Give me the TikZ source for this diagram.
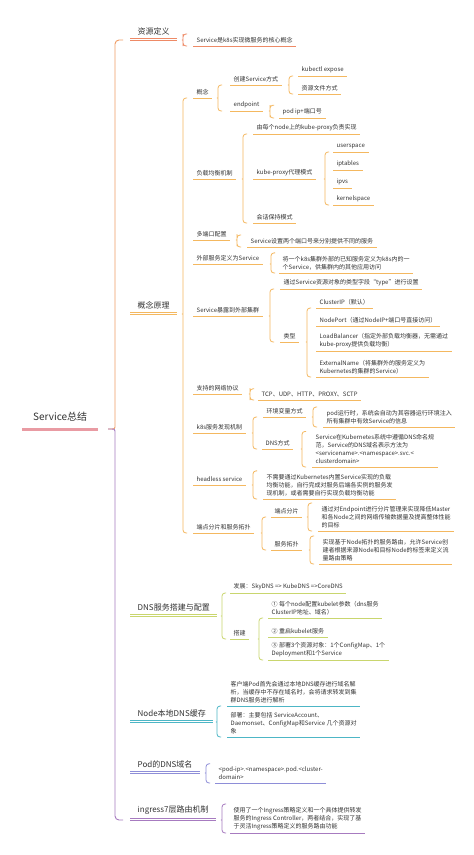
\documentclass[tikz,border=0pt]{standalone}
\usepackage{fontspec}
\setmainfont{Noto Sans CJK SC}
\usetikzlibrary{calc}

\definecolor{txt}{HTML}{333333}
\definecolor{rootpink}{HTML}{E99BA3}
\definecolor{coral}{HTML}{EE8A66}
\definecolor{orangeb}{HTML}{F4B860}
\definecolor{limeb}{HTML}{C9D66E}
\definecolor{tealb}{HTML}{4DB6C6}
\definecolor{lavb}{HTML}{8E8ED8}
\definecolor{purpb}{HTML}{A77BC0}

\tikzset{
    root/.style={font=\fontsize{10}{12}\selectfont, text=txt, anchor=south west,
        inner xsep=11pt, inner ysep=8pt,
        append after command={(\tikzlastnode.south west) edge[draw=rootpink, line width=3pt] (\tikzlastnode.south east)}},
    topic/.style={font=\fontsize{8}{10}\selectfont, text=txt, anchor=south west,
        inner xsep=7.5pt, inner ysep=5pt,
        append after command={(\tikzlastnode.south west) edge[draw=#1, line width=0.7pt] (\tikzlastnode.south east)
            ([yshift=2pt]\tikzlastnode.south west) edge[draw=#1, line width=0.7pt] ([yshift=2pt]\tikzlastnode.south east)}},
    leaf/.style={font=\fontsize{6}{8}\selectfont, text=txt, align=left, anchor=south west,
        inner xsep=3.5pt, inner ysep=3pt,
        append after command={(\tikzlastnode.south west) edge[draw=#1, line width=0.7pt] (\tikzlastnode.south east)}},
    brace line/.style={line width=0.8pt, rounded corners=3pt},
}

% brace at x=#1 from parent #2 to the anchors #3 (top) and #4 (bottom)
\newcommand\mmbrace[5]{%
    \draw[brace line, #5] let \p1=(#2.south), \p2=(#3), \p3=(#4) in
        ({#1pt+4pt},\y2) -- ({#1pt},\y2) -- ({#1pt},\y1+3pt)
        .. controls ({#1pt},\y1) .. ({#1pt-3pt},\y1)
        .. controls ({#1pt},\y1) .. ({#1pt},\y1-3pt) -- ({#1pt},\y3) -- ({#1pt+4pt},\y3);}

\begin{document}
\begin{tikzpicture}[x=1pt, y=-1pt]
    \useasboundingbox[fill=white] (0,0) rectangle (474,855);

    % Root
    \node[root] (r) at (22,429) {Service总结};

    % Main topics
    \node[topic=coral] (n1) at (130,40) {资源定义};
    \node[topic=orangeb] (n2) at (130,314) {概念原理};
    \node[topic=limeb] (n3) at (130,616) {DNS服务搭建与配置};
    \node[topic=tealb] (n4) at (130,722) {Node本地DNS缓存};
    \node[topic=lavb] (n5) at (130,773) {Pod的DNS域名};
    \node[topic=purpb] (n6) at (130,820) {ingress7层路由机制};

    % Main brace
    \draw[line width=0.9pt, rounded corners=4pt, coral!60!orangeb] let \p1=(r.south), \p2=(n1.south) in
        ({123pt},\y2) -- ({115pt},\y2) -- ({115pt},\y1+6pt) .. controls ({115pt},\y1) .. ({108pt},\y1);
    \draw[line width=0.9pt, rounded corners=4pt, purpb] let \p1=(r.south), \p3=(n6.south) in
        ({108pt},\y1) .. controls ({115pt},\y1) .. ({115pt},\y1-6pt) -- ({115pt},\y3) -- ({123pt},\y3);

    % 资源定义
    \node[leaf=coral] (n1a) at (193,46) {Service是k8s实现微服务的核心概念};
    \mmbrace{183}{n1}{n1a.north}{n1a.south}{coral}

    % 概念原理
    \node[leaf=orangeb] (n2a) at (193,98) {概念};
    \node[leaf=orangeb] (n2a1) at (230,85) {创建Service方式};
    \node[leaf=orangeb] (n2a1x) at (298,76) {kubectl expose};
    \node[leaf=orangeb] (n2a1y) at (298,94) {资源文件方式};
    \node[leaf=orangeb] (n2a2) at (230,111) {endpoint};
    \node[leaf=orangeb] (n2a2x) at (279,118) {pod ip+端口号};

    \node[leaf=orangeb] (n2b) at (193,179) {负载均衡机制};
    \node[leaf=orangeb] (n2b1) at (253,134) {由每个node上的kube-proxy负责实现};
    \node[leaf=orangeb] (n2b2) at (253,179) {kube-proxy代理模式};
    \node[leaf=orangeb] (n2b2a) at (333,152) {userspace};
    \node[leaf=orangeb] (n2b2b) at (333,170) {iptables};
    \node[leaf=orangeb] (n2b2c) at (333,188) {ipvs};
    \node[leaf=orangeb] (n2b2d) at (333,205) {kernelspace};
    \node[leaf=orangeb] (n2b3) at (253,223) {会话保持模式};

    \node[leaf=orangeb] (n2c) at (193,240) {多端口配置};
    \node[leaf=orangeb] (n2c1) at (247,247) {Service设置两个端口号来分别提供不同的服务};

    \node[leaf=orangeb] (n2d) at (193,264) {外部服务定义为Service};
    \node[leaf=orangeb] (n2d1) at (279,273) {将一个k8s集群外部的已知服务定义为k8s内的一\\个Service，供集群内的其他应用访问};

    \node[leaf=orangeb] (n2e) at (193,316) {Service暴露到外部集群};
    \node[leaf=orangeb] (n2e1) at (280,289) {通过Service资源对象的类型字段“type”进行设置};
    \node[leaf=orangeb] (n2e2) at (280,342) {类型};
    \node[leaf=orangeb] (n2e2a) at (316,308) {ClusterIP（默认）};
    \node[leaf=orangeb] (n2e2b) at (316,326) {NodePort（通过NodeIP+端口号直接访问）};
    \node[leaf=orangeb] (n2e2c) at (316,351) {LoadBalancer（指定外部负载均衡器，无需通过\\kube-proxy提供负载均衡）};
    \node[leaf=orangeb] (n2e2d) at (316,377) {ExternalName（将集群外的服务定义为\\Kubernetes的集群的Service）};

    \node[leaf=orangeb] (n2f) at (193,394) {支持的网络协议};
    \node[leaf=orangeb] (n2f1) at (258,400) {TCP、UDP、HTTP、PROXY、SCTP};

    \node[leaf=orangeb] (n2g) at (193,433) {k8s服务发现机制};
    \node[leaf=orangeb] (n2g1) at (263,417) {环境变量方式};
    \node[leaf=orangeb] (n2g1a) at (323,427) {pod运行时，系统会自动为其容器运行环境注入\\所有集群中有效Service的信息};
    \node[leaf=orangeb] (n2g2) at (262,449) {DNS方式};
    \node[leaf=orangeb] (n2g2a) at (312,467) {Service在Kubernetes系统中遵循DNS命名规\\范，Service的DNS域名表示方法为\\<servicename>.<namespace>.svc.<\\clusterdomain>};

    \node[leaf=orangeb] (n2h) at (193,485) {headless service};
    \node[leaf=orangeb] (n2h1) at (263,499) {不需要通过Kubernetes内置Service实现的负载\\均衡功能，自行完成对服务后端各实例的服务发\\现机制，或者需要自行实现负载均衡功能};

    \node[leaf=orangeb] (n2i) at (193,533) {端点分片和服务拓扑};
    \node[leaf=orangeb] (n2i1) at (271,517) {端点分片};
    \node[leaf=orangeb] (n2i1a) at (318,531) {通过对Endpoint进行分片管理来实现降低Master\\和各Node之间的网络传输数据量及提高整体性能\\的目标};
    \node[leaf=orangeb] (n2i2) at (271,550) {服务拓扑};
    \node[leaf=orangeb] (n2i2a) at (319,564) {实现基于Node拓扑的服务路由，允许Service创\\建者根据来源Node和目标Node的标签来定义流\\量路由策略};

    \mmbrace{183}{n2}{n2a.south}{n2i.south}{orangeb}
    \mmbrace{218}{n2a}{n2a1.south}{n2a2.south}{orangeb}
    \mmbrace{289}{n2a1}{n2a1x.south}{n2a1y.south}{orangeb}
    \mmbrace{270}{n2a2}{n2a2x.north}{n2a2x.south}{orangeb}
    \mmbrace{243}{n2b}{n2b1.south}{n2b3.south}{orangeb}
    \mmbrace{325}{n2b2}{n2b2a.south}{n2b2d.south}{orangeb}
    \mmbrace{237}{n2c}{n2c1.north}{n2c1.south}{orangeb}
    \mmbrace{271}{n2d}{n2d1.north}{n2d1.south}{orangeb}
    \mmbrace{270}{n2e}{n2e1.south}{n2e2.south}{orangeb}
    \mmbrace{307}{n2e2}{n2e2a.south}{n2e2d.south}{orangeb}
    \mmbrace{250}{n2f}{n2f1.north}{n2f1.south}{orangeb}
    \mmbrace{253}{n2g}{n2g1.south}{n2g2.south}{orangeb}
    \mmbrace{313}{n2g1}{n2g1a.north}{n2g1a.south}{orangeb}
    \mmbrace{302}{n2g2}{n2g2a.north}{n2g2a.south}{orangeb}
    \mmbrace{253}{n2h}{n2h1.north}{n2h1.south}{orangeb}
    \mmbrace{262}{n2i}{n2i1.south}{n2i2.south}{orangeb}
    \mmbrace{308}{n2i1}{n2i1a.north}{n2i1a.south}{orangeb}
    \mmbrace{310}{n2i2}{n2i2a.north}{n2i2a.south}{orangeb}

    % DNS服务搭建与配置
    \node[leaf=limeb] (n3a) at (230,593) {发展：SkyDNS => KubeDNS =>CoreDNS};
    \node[leaf=limeb] (n3b) at (230,639) {搭建};
    \node[leaf=limeb] (n3b1) at (268,618) {① 每个node配置kubelet参数（dns服务\\ClusterIP地址、域名）};
    \node[leaf=limeb] (n3b2) at (268,637) {② 重启kubelet服务};
    \node[leaf=limeb] (n3b3) at (268,660) {③ 部署3个资源对象：1个ConfigMap、1个\\Deployment和1个Service};
    \mmbrace{222}{n3}{n3a.south}{n3b.south}{limeb}
    \mmbrace{259}{n3b}{n3b1.south}{n3b3.south}{limeb}

    % Node本地DNS缓存
    \node[leaf=tealb] (n4a) at (227,706) {客户端Pod首先会通过本地DNS缓存进行域名解\\析，当缓存中不存在域名时，会将请求转发到集\\群DNS服务进行解析};
    \node[leaf=tealb] (n4b) at (227,737) {部署：主要包括 ServiceAccount、\\Daemonset、ConfigMap和Service 几个资源对\\象};
    \mmbrace{217}{n4}{n4a.south}{n4b.south}{tealb}

    % Pod的DNS域名
    \node[leaf=lavb] (n5a) at (215,783) {<pod-ip>.<namespace>.pod.<cluster-\\domain>};
    \mmbrace{206}{n5}{n5a.north}{n5a.south}{lavb}

    % ingress7层路由机制
    \node[leaf=purpb] (n6a) at (230,833) {使用了一个Ingress策略定义和一个具体提供转发\\服务的Ingress Controller，两者结合，实现了基\\于灵活Ingress策略定义的服务路由功能};
    \mmbrace{222}{n6}{n6a.north}{n6a.south}{purpb}
\end{tikzpicture}
\end{document}
